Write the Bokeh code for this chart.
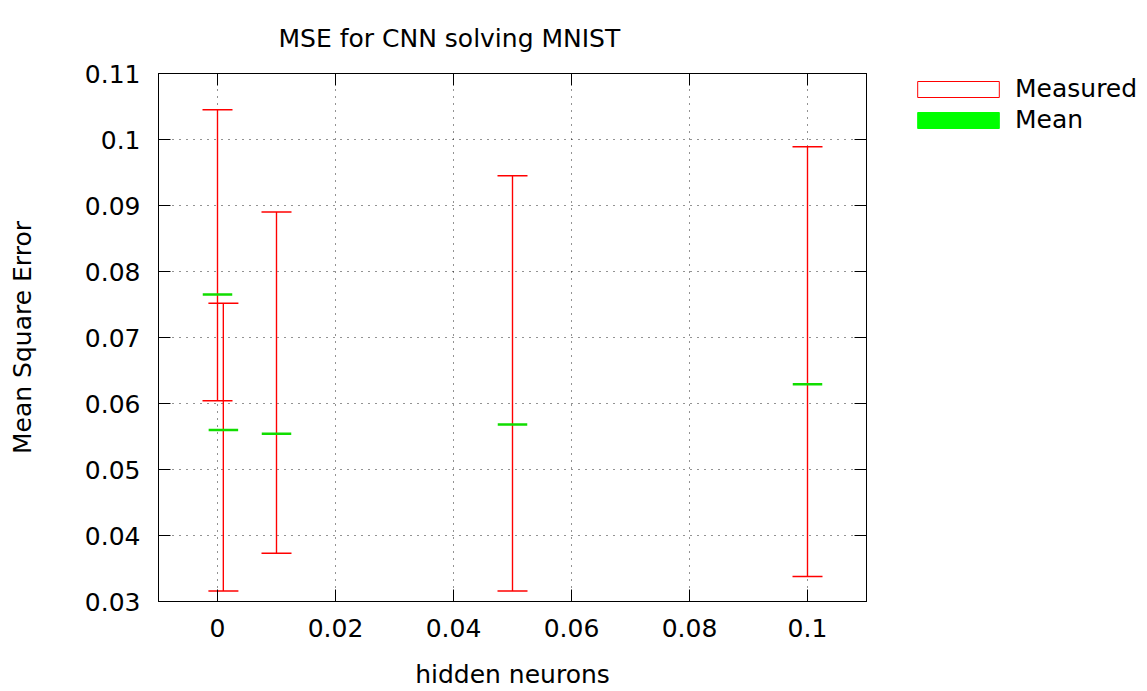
from bokeh.plotting import figure
from bokeh.layouts import row
from bokeh.models import (ColumnDataSource, FixedTicker, LinearAxis, Range1d,
                          Legend, LegendItem, Whisker, TeeHead, CustomLabelingPolicy)
from bokeh.embed import file_html
from bokeh.resources import INLINE

# Measured MSE per setting: whisker range and mean
x_vals = [0.0, 0.001, 0.01, 0.05, 0.1]
mse_low = [0.0604, 0.0316, 0.0373, 0.0316, 0.0338]
mse_high = [0.1045, 0.0752, 0.0890, 0.0945, 0.0989]
mse_mean = [0.0765, 0.0560, 0.0554, 0.0568, 0.0629]

x_ticks = [0.0, 0.02, 0.04, 0.06, 0.08, 0.1]
x_tick_labels = ["0", "0.02", "0.04", "0.06", "0.08", "0.1"]
y_ticks = [0.03, 0.04, 0.05, 0.06, 0.07, 0.08, 0.09, 0.1, 0.11]
y_tick_labels = ["0.03", "0.04", "0.05", "0.06", "0.07", "0.08", "0.09", "0.1", "0.11"]

FONT = "DejaVu Sans"
FS = "25px"
CAP_HALF = 0.0025   # half width of the mean bar, in x units

src = ColumnDataSource(dict(
    x=x_vals, lo=mse_low, hi=mse_high, mean=mse_mean,
    bar_l=[v - CAP_HALF for v in x_vals], bar_r=[v + CAP_HALF for v in x_vals],
))

p = figure(width=900, height=691, output_backend="svg", toolbar_location=None,
           x_range=Range1d(-0.01, 0.11), y_range=Range1d(0.03, 0.11),
           min_border_left=158, min_border_right=34, min_border_top=72,
           min_border_bottom=89)
p.background_fill_color = "white"
p.border_fill_color = "white"
p.outline_line_color = "black"
p.outline_line_width = 1

p.title.text = "MSE for CNN solving MNIST"
p.title.text_font = FONT
p.title.text_font_size = FS
p.title.text_font_style = "normal"
p.title.text_color = "black"
p.title.align = "left"
p.title.offset = 120
p.title.standoff = 42

def style_axis(ax, ticks, labels):
    ax.ticker = FixedTicker(ticks=ticks)
    ax.major_tick_in = 12
    ax.major_tick_out = 0
    ax.minor_tick_in = 0
    ax.minor_tick_out = 0
    ax.axis_line_color = "black"
    ax.major_tick_line_color = "black"
    ax.major_label_text_font = FONT
    ax.major_label_text_font_size = FS
    ax.major_label_text_color = "black"
    ax.axis_label_text_font = FONT
    ax.axis_label_text_font_size = FS
    ax.axis_label_text_font_style = "normal"
    ax.axis_label_text_color = "black"
    ax.major_label_overrides = {t: l for t, l in zip(ticks, labels)}

xa = p.xaxis[0]
ya = p.yaxis[0]
style_axis(xa, x_ticks, x_tick_labels)
style_axis(ya, y_ticks, y_tick_labels)
xa.axis_label = "hidden neurons"
ya.axis_label = "Mean Square Error"
xa.major_label_standoff = 17
xa.axis_label_standoff = 20
ya.major_label_standoff = 18
ya.axis_label_standoff = 45

# mirrored tick marks on top and right, without labels
hide_all = CustomLabelingPolicy(code="""
    const all = [...indices]
    for (const i of all) indices.unset(i)
    return indices
""")
for side, ticks in (("above", x_ticks), ("right", y_ticks)):
    ax = LinearAxis()
    style_axis(ax, ticks, ["" for _ in ticks])
    ax.major_label_policy = hide_all
    ax.major_label_standoff = 0
    ax.major_label_text_font_size = "1px"
    p.add_layout(ax, side)

p.grid.grid_line_color = "black"
p.grid.grid_line_dash = "1 6"
p.grid.grid_line_width = 1
p.grid.grid_line_alpha = 0.85

# measured range: zero-width box plus capped whiskers
p.quad(left="x", right="x", bottom="lo", top="hi", source=src,
       fill_color="white", line_color="red", line_width=1.2)
wh = Whisker(base="x", lower="lo", upper="hi", source=src,
             line_color="red", line_width=1.2,
             upper_head=TeeHead(size=30, line_color="red", line_width=1.5),
             lower_head=TeeHead(size=30, line_color="red", line_width=1.5))
p.add_layout(wh)

# mean: zero-height bar
p.quad(left="bar_l", right="bar_r", bottom="mean", top="mean", source=src,
       fill_color="#00ff00", line_color="#11dd00", line_width=2.5)

# key panel to the right of the plot area; its ranges keep the series out of view
k = figure(width=247, height=691, output_backend="svg", toolbar_location=None,
           x_axis_type=None, y_axis_type=None,
           x_range=Range1d(1, 2), y_range=Range1d(1, 2),
           min_border_left=0, min_border_right=0, min_border_top=0,
           min_border_bottom=0)
k.outline_line_color = None
k.background_fill_color = "white"
k.border_fill_color = "white"
k_meas = k.quad(left="x", right="x", bottom="lo", top="hi", source=src,
                fill_color="white", line_color="red", line_width=1)
k_mean = k.quad(left="bar_l", right="bar_r", bottom="mean", top="mean", source=src,
                fill_color="#00ff00", line_color="#00ff00", line_width=1)

legend = Legend(items=[LegendItem(label="Measured", renderers=[k_meas]),
                       LegendItem(label="Mean", renderers=[k_mean])],
                location=(7, 466), orientation="vertical",
                glyph_width=102, glyph_height=20, label_height=31,
                label_standoff=6, spacing=0, padding=0, margin=0,
                border_line_color=None, background_fill_alpha=0,
                label_text_font=FONT, label_text_font_size=FS,
                label_text_color="black")
k.add_layout(legend, "center")

layout = row(p, k)
open("out.html", "w").write(file_html(layout, INLINE))
